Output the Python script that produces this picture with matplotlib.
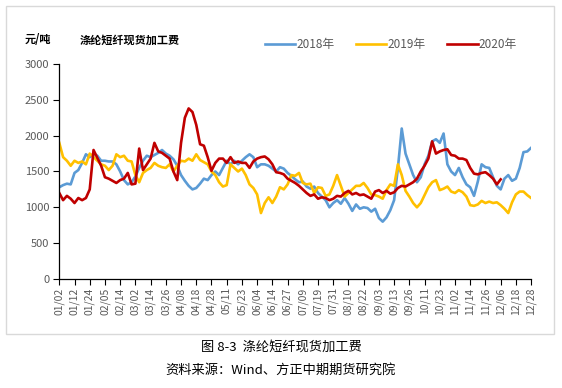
import matplotlib.pyplot as plt
from matplotlib.patches import Rectangle
import numpy as np

plt.rcParams['font.family'] = ['Noto Sans CJK SC', 'DejaVu Sans']

# tick labels (one every 8 trading days)
date_labels = ['01/02', '01/12', '01/24', '02/05', '02/14', '03/02', '03/14', '03/26',
               '04/08', '04/18', '04/28', '05/11', '05/23', '06/04', '06/14', '06/27',
               '07/09', '07/19', '07/31', '08/10', '08/22', '09/03', '09/13', '09/26',
               '10/11', '10/23', '11/02', '11/14', '11/26', '12/06', '12/18', '12/28']

# processing fee, yuan/ton, sampled every 2 trading days
fee_2018 = [1280, 1310, 1330, 1320, 1480, 1520, 1620, 1740, 1700, 1750, 1720, 1650,
            1650, 1640, 1640, 1600, 1500, 1380, 1320, 1350, 1430, 1550, 1650, 1720,
            1700, 1730, 1760, 1800, 1750, 1720, 1670, 1580, 1450, 1370, 1300, 1250,
            1270, 1330, 1400, 1380, 1450, 1500, 1450, 1550, 1650, 1600, 1650, 1600,
            1650, 1700, 1740, 1700, 1560, 1600, 1600, 1580, 1540, 1500, 1560, 1540,
            1480, 1440, 1390, 1350, 1360, 1290, 1260, 1290, 1200, 1150, 1100, 1000,
            1060, 1100, 1050, 1130, 1050, 950, 1040, 980, 1000, 990, 940, 980,
            850, 800, 860, 960, 1100, 1550, 2100, 1750, 1600, 1450, 1350, 1420,
            1600, 1720, 1920, 1950, 1900, 2030, 1600, 1500, 1450, 1550, 1420, 1320,
            1280, 1160, 1360, 1600, 1560, 1550, 1420, 1300, 1250, 1400, 1450, 1370,
            1400, 1550, 1770, 1780, 1830]
fee_2019 = [1900, 1700, 1650, 1580, 1650, 1620, 1640, 1600, 1750, 1700, 1650, 1600,
            1580, 1520, 1580, 1740, 1700, 1720, 1650, 1640, 1450, 1350, 1480, 1520,
            1550, 1620, 1580, 1560, 1550, 1600, 1500, 1580, 1650, 1640, 1680, 1650,
            1740, 1660, 1630, 1600, 1500, 1450, 1350, 1290, 1310, 1600, 1550, 1500,
            1540, 1450, 1320, 1270, 1180, 920, 1060, 1140, 1060, 1150, 1280, 1250,
            1320, 1450, 1440, 1480, 1340, 1320, 1330, 1200, 1280, 1270, 1160, 1180,
            1300, 1450, 1300, 1150, 1200, 1250, 1300, 1300, 1340, 1270, 1180, 1170,
            1150, 1120, 1240, 1320, 1300, 1600, 1450, 1230, 1150, 1060, 1000, 1060,
            1170, 1280, 1350, 1380, 1240, 1260, 1290, 1220, 1200, 1240, 1210, 1150,
            1030, 1020, 1040, 1090, 1060, 1080, 1060, 1070, 1030, 980, 920, 1070,
            1180, 1220, 1220, 1170, 1130]
fee_2020 = [1200, 1100, 1160, 1120, 1060, 1130, 1100, 1130, 1250, 1800, 1690, 1580,
            1420, 1400, 1370, 1340, 1380, 1400, 1480, 1320, 1330, 1820, 1520, 1600,
            1680, 1900, 1780, 1760, 1720, 1680, 1500, 1380, 1900, 2250, 2380, 2330,
            2150, 1880, 1860, 1700, 1510, 1620, 1680, 1680, 1620, 1700, 1620, 1640,
            1620, 1620, 1550, 1640, 1680, 1700, 1710, 1670, 1600, 1490, 1480, 1460,
            1400, 1370, 1340, 1300, 1250, 1200, 1160, 1180, 1120, 1140, 1130, 1100,
            1120, 1160, 1150, 1200, 1230, 1180, 1200, 1170, 1180, 1150, 1120, 1220,
            1240, 1200, 1230, 1190, 1210, 1270, 1300, 1290, 1320, 1350, 1400, 1500,
            1580, 1680, 1920, 1750, 1780, 1800, 1810, 1730, 1720, 1680, 1680, 1660,
            1550, 1470, 1460, 1480, 1490, 1450, 1400, 1320, 1390]

series = [('2018年', fee_2018, '#5B9BD5'),
          ('2019年', fee_2019, '#FFC000'),
          ('2020年', fee_2020, '#C00000')]

fig = plt.figure(figsize=(5.62, 3.88), dpi=100)
ax = fig.add_axes([0.1055, 0.281, 0.8395, 0.554])

for name, vals, col in series:
    x = np.arange(len(vals)) * 2
    ax.plot(x, vals, color=col, lw=1.9, label=name, solid_joinstyle='round')

ax.set_xlim(0, 248)
ax.set_ylim(0, 3000)
ax.set_xticks(np.arange(len(date_labels)) * 8)
ax.set_xticklabels(date_labels, rotation=90, fontsize=7.5, color='#595959')
ax.set_yticks(np.arange(0, 3001, 500))
ax.tick_params(axis='y', labelsize=8, labelcolor='#595959', length=4, width=0.8, pad=3)
ax.tick_params(axis='x', length=4, width=0.8, pad=2)
for s in ['top', 'right']:
    ax.spines[s].set_visible(False)
for s in ['left', 'bottom']:
    ax.spines[s].set_color('#000000')
    ax.spines[s].set_linewidth(0.9)

fig.text(0.044, 0.897, '元/吨', fontsize=8, fontweight='bold', va='center')
fig.text(0.142, 0.897, '涤纶短纤现货加工费', fontsize=8, fontweight='bold', va='center')

leg = ax.legend(loc='lower left', bbox_to_anchor=(0.435, 1.06), ncol=3, frameon=False,
                fontsize=8.5, handlelength=2.6, handletextpad=0.1, columnspacing=1.8,
                borderaxespad=0, borderpad=0)
for t in leg.get_texts():
    t.set_color('#595959')

fig.patches.append(Rectangle((0.011, 0.139), 0.975, 0.846, transform=fig.transFigure,
                             fill=False, edgecolor='#D9D9D9', lw=1))

fig.text(0.5, 0.105, '图 8-3  涤纶短纤现货加工费', fontsize=9.5, ha='center', va='center')
fig.text(0.5, 0.046, '资料来源：Wind、方正中期期货研究院', fontsize=9.5, ha='center', va='center')

fig.savefig('out.png', dpi=100)
